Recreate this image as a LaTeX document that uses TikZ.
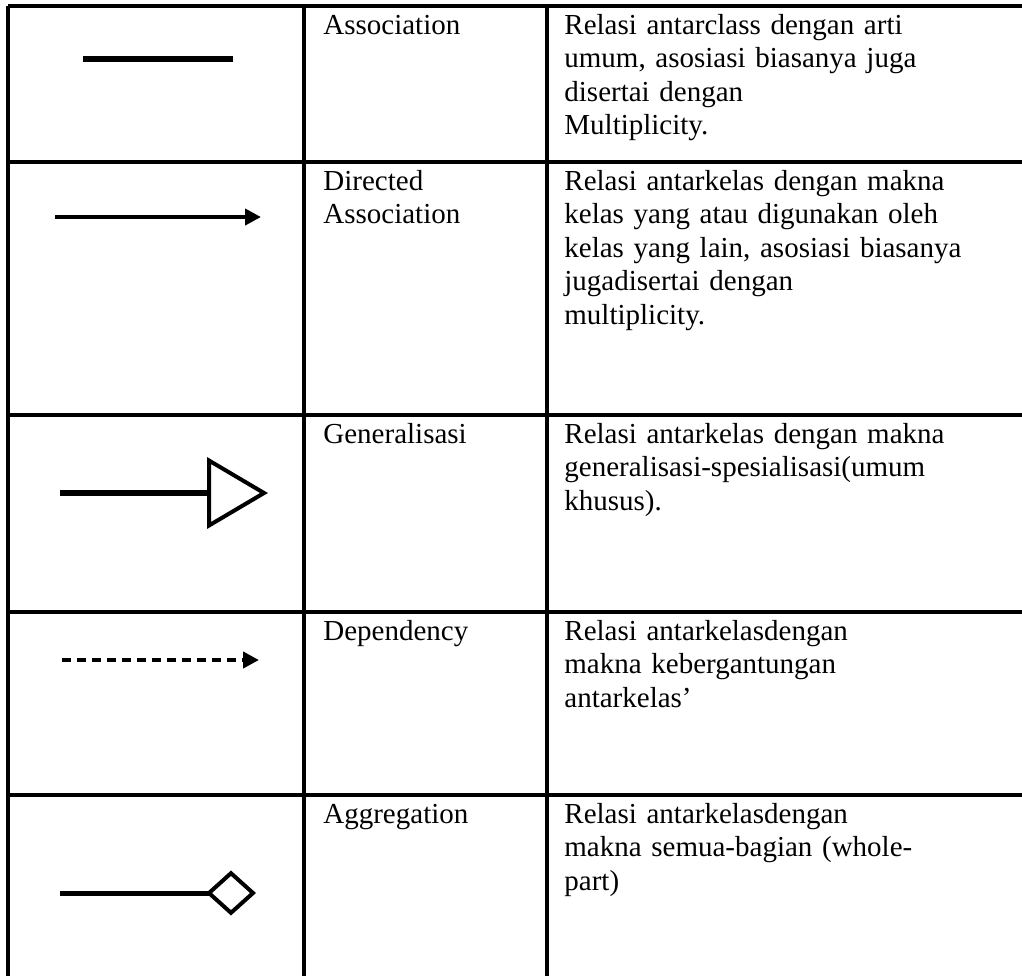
\documentclass[tikz,border=0pt]{standalone}
\usepackage{fontspec}
\setmainfont{Liberation Serif}
\usetikzlibrary{arrows.meta}
\tikzset{
  grid line/.style={line width=2pt},
  cell text/.style={anchor=base west, inner sep=0pt, align=left,
    font=\fontsize{14.5pt}{16.75pt}\selectfont},
  name cell/.style={cell text, text width=110pt},
  desc cell/.style={cell text, text width=225pt},
}
\begin{document}
\begin{tikzpicture}[x=0.5pt,y=-0.5pt]
        \useasboundingbox (0,0) rectangle (1022,976);
        % table grid
        \foreach \y in {6,162,415,612,795}
          \draw[grid line] (8,\y) -- (1022,\y);
        \foreach \x in {8,304,547}
          \draw[grid line] (\x,6) -- (\x,976);
        % Association
        \coordinate (assocA) at (83,59);
        \coordinate (assocB) at (233,59);
        \draw[line width=3pt] (assocA) -- (assocB);
        \node[name cell] (assocName) at (323,34) {Association};
        \node[desc cell] (assocDesc) at (564,34) {Relasi antarclass dengan arti\\umum, asosiasi biasanya juga\\disertai dengan\\Multiplicity.};
        % Directed Association
        \coordinate (dirA) at (55,217);
        \coordinate (dirB) at (261,217);
        \draw[line width=2pt,-{Triangle[length=8pt,width=8pt]}] (dirA) -- (dirB);
        \node[name cell] (dirName) at (323,190) {Directed\\Association};
        \node[desc cell] (dirDesc) at (564,190) {Relasi antarkelas dengan makna\\kelas yang atau digunakan oleh\\kelas yang lain, asosiasi biasanya\\jugadisertai dengan\\multiplicity.};
        % Generalisasi
        \coordinate (genA) at (60,493);
        \coordinate (genB) at (268,493);
        \draw[line width=2.8pt,-{Triangle[open,length=30.5pt,width=35.5pt,line width=2pt]}] (genA) -- (genB);
        \node[name cell] (genName) at (323,443) {Generalisasi};
        \node[desc cell] (genDesc) at (564,443) {Relasi antarkelas dengan makna\\generalisasi-spesialisasi(umum\\khusus).};
        % Dependency
        \coordinate (depA) at (62,660);
        \coordinate (depB) at (259,660);
        \draw[line width=2pt,dash pattern=on 4.5pt off 3pt,-{Triangle[length=8pt,width=8pt]}] (depA) -- (depB);
        \node[name cell] (depName) at (323,640) {Dependency};
        \node[desc cell] (depDesc) at (564,640) {Relasi antarkelasdengan\\makna kebergantungan\\antarkelas’};
        % Aggregation
        \coordinate (aggA) at (60,893);
        \coordinate (aggB) at (256,893);
        \draw[line width=2.5pt,-{Diamond[open,length=25pt,width=22.5pt,line width=2pt]}] (aggA) -- (aggB);
        \node[name cell] (aggName) at (323,823) {Aggregation};
        \node[desc cell] (aggDesc) at (564,823) {Relasi antarkelasdengan\\makna semua-bagian (whole-\\part)};
\end{tikzpicture}
\end{document}
